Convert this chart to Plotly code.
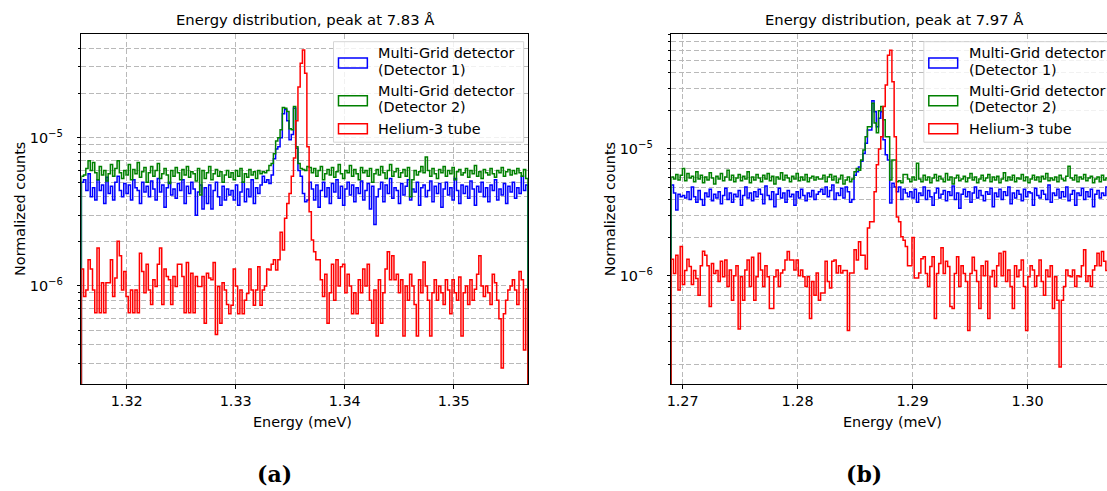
import numpy as np
import plotly.graph_objects as go

W, H = 1107, 491
FONT = "DejaVu Sans"
FS = 14.4
TXT = "#000000"
GRID = "#b9b9b9"

# ---------------- data (units of 1e-7 normalized counts) ----------------
SCALE = 1e-7
N_BINS = 200
A_E0, A_E1 = 1.31584, 1.35681          # histogram range panel (a), meV
B_E0, B_E1 = 1.26901, 1.30778          # histogram range panel (b), meV
A_XVIEW = [1.31584, 1.35681]
B_XVIEW = [1.26901, 1.30691]
A_YVIEW = [-6.661, -4.301]             # log10
B_YVIEW = [-6.855, -4.095]
A_XTICKS = [1.32, 1.33, 1.34, 1.35]
B_XTICKS = [1.27, 1.28, 1.29, 1.30]
A_XTICKTEXT = ["1.32", "1.33", "1.34", "1.35"]
B_XTICKTEXT = ["1.27", "1.28", "1.29", "1.30"]
Y_TICKS = [1e-6, 1e-5]
Y_TICKTEXT = ["10<sup>−6</sup>", "10<sup>−5</sup>"]
A_YMINOR = [3e-7, 4e-7, 5e-7, 6e-7, 7e-7, 8e-7, 9e-7, 2e-6, 3e-6, 4e-6, 5e-6, 6e-6,
            7e-6, 8e-6, 9e-6, 2e-5, 3e-5, 4e-5]
B_YMINOR = [2e-7, 3e-7, 4e-7, 5e-7, 6e-7, 7e-7, 8e-7, 9e-7, 2e-6, 3e-6, 4e-6, 5e-6,
            6e-6, 7e-6, 8e-6, 9e-6, 2e-5, 3e-5, 4e-5, 5e-5, 6e-5, 7e-5, 8e-5]

SERIES_NAMES = ["Multi-Grid detector\n(Detector 1)", "Multi-Grid detector\n(Detector 2)", "Helium-3 tube"]
COLORS = ["#0000ff", "#008000", "#ff0000"]
TITLES = ["Energy distribution, peak at 7.83 Å", "Energy distribution, peak at 7.97 Å"]
CAPTIONS = ["(a)", "(b)"]

a_blue = [50, 52, 44, 57, 40, 46, 38, 52, 44, 48,
          36, 54, 42, 47, 38, 50, 55, 44, 40, 49,
          42, 48, 38, 52, 46, 44, 36, 50, 43, 47,
          40, 51, 45, 38, 53, 43, 48, 34, 46, 50,
          41, 45, 39, 49, 44, 52, 36, 47, 42, 50,
          45, 30, 43, 48, 33, 46, 36, 48, 33, 44,
          50, 40, 35, 47, 38, 45, 41,
          44, 38, 48, 35, 43, 50, 37, 45, 40, 52, 36, 46, 42, 48,
          55, 50, 52, 49, 56, 72, 84, 87, 100, 145, 155, 130, 97, 105, 158, 85, 60, 55, 42, 37, 38, 50,
          45, 38, 48, 34, 44, 50, 40, 46, 36, 49,
          43, 52, 39, 47, 35, 45, 50, 41, 48, 37,
          46, 42, 51, 38, 44, 49, 33, 47, 26, 40,
          45, 50, 37, 48, 42, 53, 39, 46, 44, 36,
          49, 41, 47, 52, 38, 45, 43, 50, 35, 46,
          48, 40, 44, 51, 37, 47, 42, 49, 34, 45,
          50, 41, 46, 38, 53, 44, 36, 48, 42, 47,
          39, 51, 45, 35, 47, 43, 50, 40, 46, 37,
          48, 44, 52, 38, 45, 41, 49, 36, 47, 43,
          50, 39, 46, 42, 55, 44, 48]

a_green = [55, 56, 62, 70, 60, 68, 58, 52, 64, 56,
           60, 51, 57, 66, 55, 62, 70, 58, 53, 60,
           56, 66, 52, 61, 57, 68, 54, 59, 63, 50,
           58, 64, 55, 60, 67, 53, 57, 62, 56, 49,
           60, 55, 63, 58, 52, 61, 56, 64, 54, 59,
           57, 51, 62, 41, 60, 53, 58, 64, 52, 57,
           61, 55, 59, 50, 56, 60, 54,
           58, 52, 60, 55, 62, 50, 57, 54, 61, 56, 59, 53, 60, 57,
           59, 58, 60, 65, 67, 78, 95, 100, 113, 160, 158, 150, 115, 113, 162, 87, 67, 62, 61, 60, 64, 63,
           58, 62, 55, 60, 64, 52, 57, 61, 56, 63,
           54, 59, 66, 57, 53, 60, 58, 65, 55, 61,
           57, 52, 63, 58, 60, 55, 62, 50, 57, 61,
           56, 64, 58, 53, 60, 66, 55, 59, 62, 54,
           58, 61, 55, 63, 40, 52, 60, 56, 59, 64,
           58, 74, 60, 55, 62, 57, 53, 61, 58, 64,
           55, 60, 57, 63, 52, 59, 61, 56, 58, 62,
           54, 60, 57, 65, 55, 59, 53, 61, 58, 56,
           62, 57, 54, 60, 58, 63, 55, 59, 61, 56,
           60, 57, 62, 58, 55, 61, 53]

a_red = [13, 8.5, 9.4, 15, 13, 9.4, 6.6, 18, 6.6, 10.5,
         6.6, 10.5, 10.5, 15, 8.5, 11.3, 20, 16, 9.4, 12.5,
         8.5, 6.6, 9.4, 6.6, 9.4, 6.6, 16.6, 12.5, 9.0, 14,
         9.4, 7.5, 11, 9.9, 14, 18, 7.5, 13, 11.6, 11,
         7.5, 11.6, 9.9, 14, 14, 11.6, 6.6, 14.4, 6.6, 12.2,
         6.6, 11.6, 9.9, 9.9, 11.6, 5.6, 12.2, 11.3, 11, 14.4,
         4.7, 9.9, 5.6, 10.5, 9.4, 7.5, 6.5,
         7.4, 13, 10, 6.5, 9.4, 6.5, 8, 8.9, 13, 9.4,
         7.4, 9.4, 13.5, 7.4, 9.4, 10, 13, 12.8, 14, 15, 12.8,
         15, 23, 17.5, 28.6, 36, 42, 55, 73, 130, 220, 317, 390, 272, 87, 31.7,
         20.4, 17, 15, 15, 11, 8.5, 12, 5.6, 9, 14,
         8, 15, 10, 13.5, 14, 9, 12, 10, 6.5, 9,
         6.5, 11, 9, 13, 10, 14, 8, 5.6, 9.4, 4.6,
         11, 5.6, 9, 13, 17, 11, 16, 11, 12, 9,
         11, 4.6, 10, 8, 12, 10, 7.5, 4.6, 11, 9,
         14.5, 10, 8, 4.6, 9, 11, 8, 10, 9, 7.5,
         11, 9.4, 6.5, 11, 9, 8, 11.5, 4.6, 9, 10,
         7.5, 11, 8, 9.5, 12, 16, 10, 8.5, 10, 9,
         7.5, 12, 10.5, 8, 6, 2.8, 6.5, 8, 9.4, 10,
         11, 9.4, 7.5, 12.5, 11, 3.7, 9.5]

b_blue = [52, 45, 33, 44, 42, 43, 41, 46, 40, 50,
          42, 38, 47, 40, 36, 45, 42, 48, 39, 44,
          41, 46, 37, 43, 49, 40, 45, 38, 44, 42,
          47, 36, 43, 50, 41, 45, 39, 46, 42, 48,
          44, 37, 51, 43, 40, 46, 35, 44, 49, 41,
          45, 38, 47, 42, 44, 36, 46, 41, 48, 43,
          39, 45, 42, 47, 40, 44, 46,
          48, 44, 50, 42, 47, 52, 40, 45, 43, 49,
          41, 50, 46, 38, 40, 62, 66, 72, 80, 92,
          111, 141, 141, 240, 197, 150, 175, 197, 118, 90,
          82, 37.5, 53.6, 50, 46, 50, 40, 48, 45, 42,
          46, 41, 48, 38, 45, 43, 50, 40, 47, 42,
          36, 45, 49, 41, 44, 47, 39, 46, 43, 51,
          40, 45, 34, 44, 48, 42, 46, 38, 45, 50,
          41, 47, 43, 39, 46, 44, 49, 35, 45, 42,
          48, 40, 46, 43, 50, 37, 45, 41, 47, 44,
          39, 48, 42, 46, 45, 36, 49, 43, 41, 47,
          44, 40, 52, 38, 45, 43, 48, 41, 46, 42,
          50, 39, 44, 47, 36, 45, 43, 49, 40, 46,
          42, 48, 35, 44, 47, 41, 45, 43, 50, 39,
          46, 42, 44]

b_green = [60, 58, 63, 57, 62, 70, 56, 64, 59, 61,
           55, 66, 58, 62, 54, 60, 57, 65, 59, 53,
           61, 58, 64, 56, 60, 68, 57, 62, 55, 59,
           63, 56, 61, 58, 66, 54, 60, 57, 63, 59,
           55, 62, 58, 64, 56, 61, 53, 60, 58, 65,
           57, 62, 59, 55, 61, 58, 64, 56, 60, 57,
           63, 55, 59, 61, 57, 60, 58,
           58, 62, 55, 60, 63, 57, 61, 54, 58, 62,
           53, 57, 60, 55, 58, 66, 70, 68, 82, 98,
           125, 150, 150, 230, 160, 134, 200, 216, 170, 125,
           125, 57, 82, 82, 55, 56, 54, 63, 63, 58,
           55, 60, 57, 77,
           58, 55, 62, 57, 60, 54, 59, 63, 56, 61,
           58, 55, 64, 57, 60, 53, 59, 62, 56, 58,
           61, 55, 59, 64, 57, 60, 54, 58, 62, 56,
           59, 63, 55, 60, 57, 61, 54, 58, 65, 56,
           60, 57, 62, 55, 59, 58, 63, 56, 60, 54,
           58, 62, 57, 60, 55, 61, 58, 64, 56, 59,
           57, 60, 55, 62, 58, 56, 61, 73, 59, 57,
           62, 55, 60, 58, 63, 56, 59, 61, 54,
           58, 60, 55, 62, 57, 59, 53, 60, 56, 58]

b_red = [13.5, 10.4, 14.5, 7.7, 17, 8.5, 11, 13.5, 11.8, 8.5,
         11, 9.5, 7, 12, 15.6, 14.5, 12, 5.7, 12.5, 10.4,
         11, 9, 13,
         9.8, 13.3, 8.2, 11.1, 6.4, 10, 12, 3.8, 9.8, 6.4,
         11.1, 13.3, 8.2, 14, 6.4, 9.8, 15, 11.1, 8.2, 12,
         9.8, 5.5, 5.5, 9.8, 11.1, 8.2, 10.5, 11.1, 13.3, 15.5,
         13.3, 13.3, 11.1, 13.3, 10, 11.1, 9.8, 8.2, 9.8, 4.6,
         9, 7, 10.5, 6.4,
         7.3, 7.3, 13, 9, 8, 13, 13.3, 10.5, 12, 10.5,
         11, 11, 3.7, 10.5, 10.5, 16, 13.3, 18.5, 14.5, 14.5,
         11.3, 23.8, 26.7, 26.7, 46, 75, 100, 125, 216, 320,
         550, 600, 340, 125, 29, 26.7, 20.3, 19, 17, 12,
         12, 20, 9.6, 9.6, 10.5, 13.6,
         14.1, 10.4, 8.2, 11.8, 14.1, 4.6, 10.4, 12.5, 16.6, 10.4,
         13, 11.8, 5.7, 5.5, 10.4, 14.1, 8.2, 12, 10.4, 9,
         3.7, 10.4, 14, 11, 9, 5.5, 12, 10, 13, 4.6,
         9.8, 11, 8.2, 12, 15, 10, 15.5, 9, 11.1, 8.2,
         5.5, 12, 9.8, 11.1, 13.3, 8.2, 3.7, 9.8, 12, 11.1,
         8.2, 10, 13.3, 9, 7, 11.1, 9.8, 12, 5.5, 9.8,
         6.4, 1.9, 6.4, 8.2, 11.1, 10, 9.8, 11.1, 8.2, 10,
         9.8, 12, 16, 9, 10, 8.2, 11.1, 12, 15, 12,
         15.5, 13, 11, 9, 10, 12, 10]


# ---------------- helpers ----------------
def px(x):
    return x / W


def py(y):
    return 1 - y / H


def step_xy(e0, e1, vals):
    n = len(vals)
    width = (e1 - e0) / N_BINS
    edges = e0 + np.arange(n + 1) * width
    v = np.asarray(vals, float) * SCALE
    floor = 1e-9
    x = np.concatenate([[edges[0]], edges[:-1], [edges[-1], edges[-1]]])
    y = np.concatenate([[floor], v, [v[-1], floor]])
    return x, y


fig = go.Figure()

panels = [
    dict(e=(A_E0, A_E1), data=[a_blue, a_green, a_red], xa="x", ya="y"),
    dict(e=(B_E0, B_E1), data=[b_blue, b_green, b_red], xa="x2", ya="y2"),
]
for p in panels:
    for vals, col, name in zip(p["data"], COLORS, SERIES_NAMES):
        x, y = step_xy(p["e"][0], p["e"][1], vals)
        fig.add_trace(go.Scatter(x=x, y=y, mode="lines", line=dict(color=col, width=1.5, shape="hv"),
                                 name=name, xaxis=p["xa"], yaxis=p["ya"], showlegend=False,
                                 hoverinfo="skip"))

axfont = dict(family=FONT, size=FS, color=TXT)
common = dict(showline=True, linecolor="black", linewidth=1, ticks="outside", ticklen=3.5,
              tickwidth=1, tickcolor="black", showgrid=True, gridcolor=GRID, griddash="5px,2.5px",
              gridwidth=0.8, zeroline=False, tickfont=axfont, layer="below traces")


def yminor(vals):
    return dict(tickmode="array", tickvals=vals, ticks="outside", ticklen=2, tickcolor="black",
                tickwidth=0.8, showgrid=True, gridcolor=GRID, griddash="5px,2.5px", gridwidth=0.8)


fig.update_layout(
    width=W, height=H, margin=dict(l=0, r=0, t=0, b=0),
    paper_bgcolor="white", plot_bgcolor="white", showlegend=False,
    xaxis=dict(domain=[76.7 / W, 525.3 / W], anchor="y", range=A_XVIEW, tickmode="array",
               tickvals=A_XTICKS, ticktext=A_XTICKTEXT, mirror=True, **common),
    yaxis=dict(domain=[py(384), py(34)], anchor="x", type="log", range=A_YVIEW, tickmode="array",
               tickvals=Y_TICKS, ticktext=Y_TICKTEXT, mirror=True, ticklabelstandoff=11,
               minor=yminor(A_YMINOR), **common),
    xaxis2=dict(domain=[669.3 / W, 1.0], anchor="y2", range=B_XVIEW, tickmode="array",
                tickvals=B_XTICKS, ticktext=B_XTICKTEXT, mirror=True, **common),
    yaxis2=dict(domain=[py(384), py(34.3)], anchor="x2", type="log", range=B_YVIEW, tickmode="array",
                tickvals=Y_TICKS, ticktext=Y_TICKTEXT, mirror=False, ticklabelstandoff=11,
                minor=yminor(B_YMINOR), **common),
)

shapes = []
annots = []


def ann(x, y, text, size=FS, family=FONT, angle=0, xanchor="center", bold=False):
    annots.append(dict(xref="paper", yref="paper", x=px(x), y=py(y), text=text, showarrow=False,
                       xanchor=xanchor, yanchor="middle", textangle=angle,
                       font=dict(family=family, size=size, color=TXT,
                                 weight="bold" if bold else "normal")))


centers = [(76.7 + 525.3) / 2, (669.3 + 1117.6) / 2]
ylabel_x = [15, 608]
caption_x = [271, 863]
legend_left = [330, 923]

for i in range(2):
    ann(centers[i], 20, TITLES[i], size=14.8)
    ann(centers[i] - 2, 421.7, "Energy (meV)")
    ann(ylabel_x[i], 209, "Normalized counts", angle=-90)
    ann(caption_x[i], 474, CAPTIONS[i], size=22, family="DejaVu Serif", bold=True)

    L = legend_left[i]
    shapes.append(dict(type="rect", xref="paper", yref="paper", x0=px(L), x1=px(L + 191),
                       y0=py(142.2), y1=py(41.7), fillcolor="rgba(255,255,255,0.8)",
                       line=dict(color="#d6d6d6", width=1), layer="above"))
    for col, cy in zip(COLORS, [63, 100.8, 128.8]):
        shapes.append(dict(type="rect", xref="paper", yref="paper", x0=px(L + 5), x1=px(L + 34),
                           y0=py(cy + 5), y1=py(cy - 5), fillcolor="rgba(0,0,0,0)",
                           line=dict(color=col, width=1.5), layer="above"))
    lines = SERIES_NAMES[0].split("\n") + SERIES_NAMES[1].split("\n") + [SERIES_NAMES[2]]
    for t, cy in zip(lines, [53.3, 70, 90.7, 107.3, 128.7]):
        ann(L + 43, cy, t, xanchor="left")

fig.update_layout(shapes=shapes, annotations=annots)
fig.write_html("out.html")
